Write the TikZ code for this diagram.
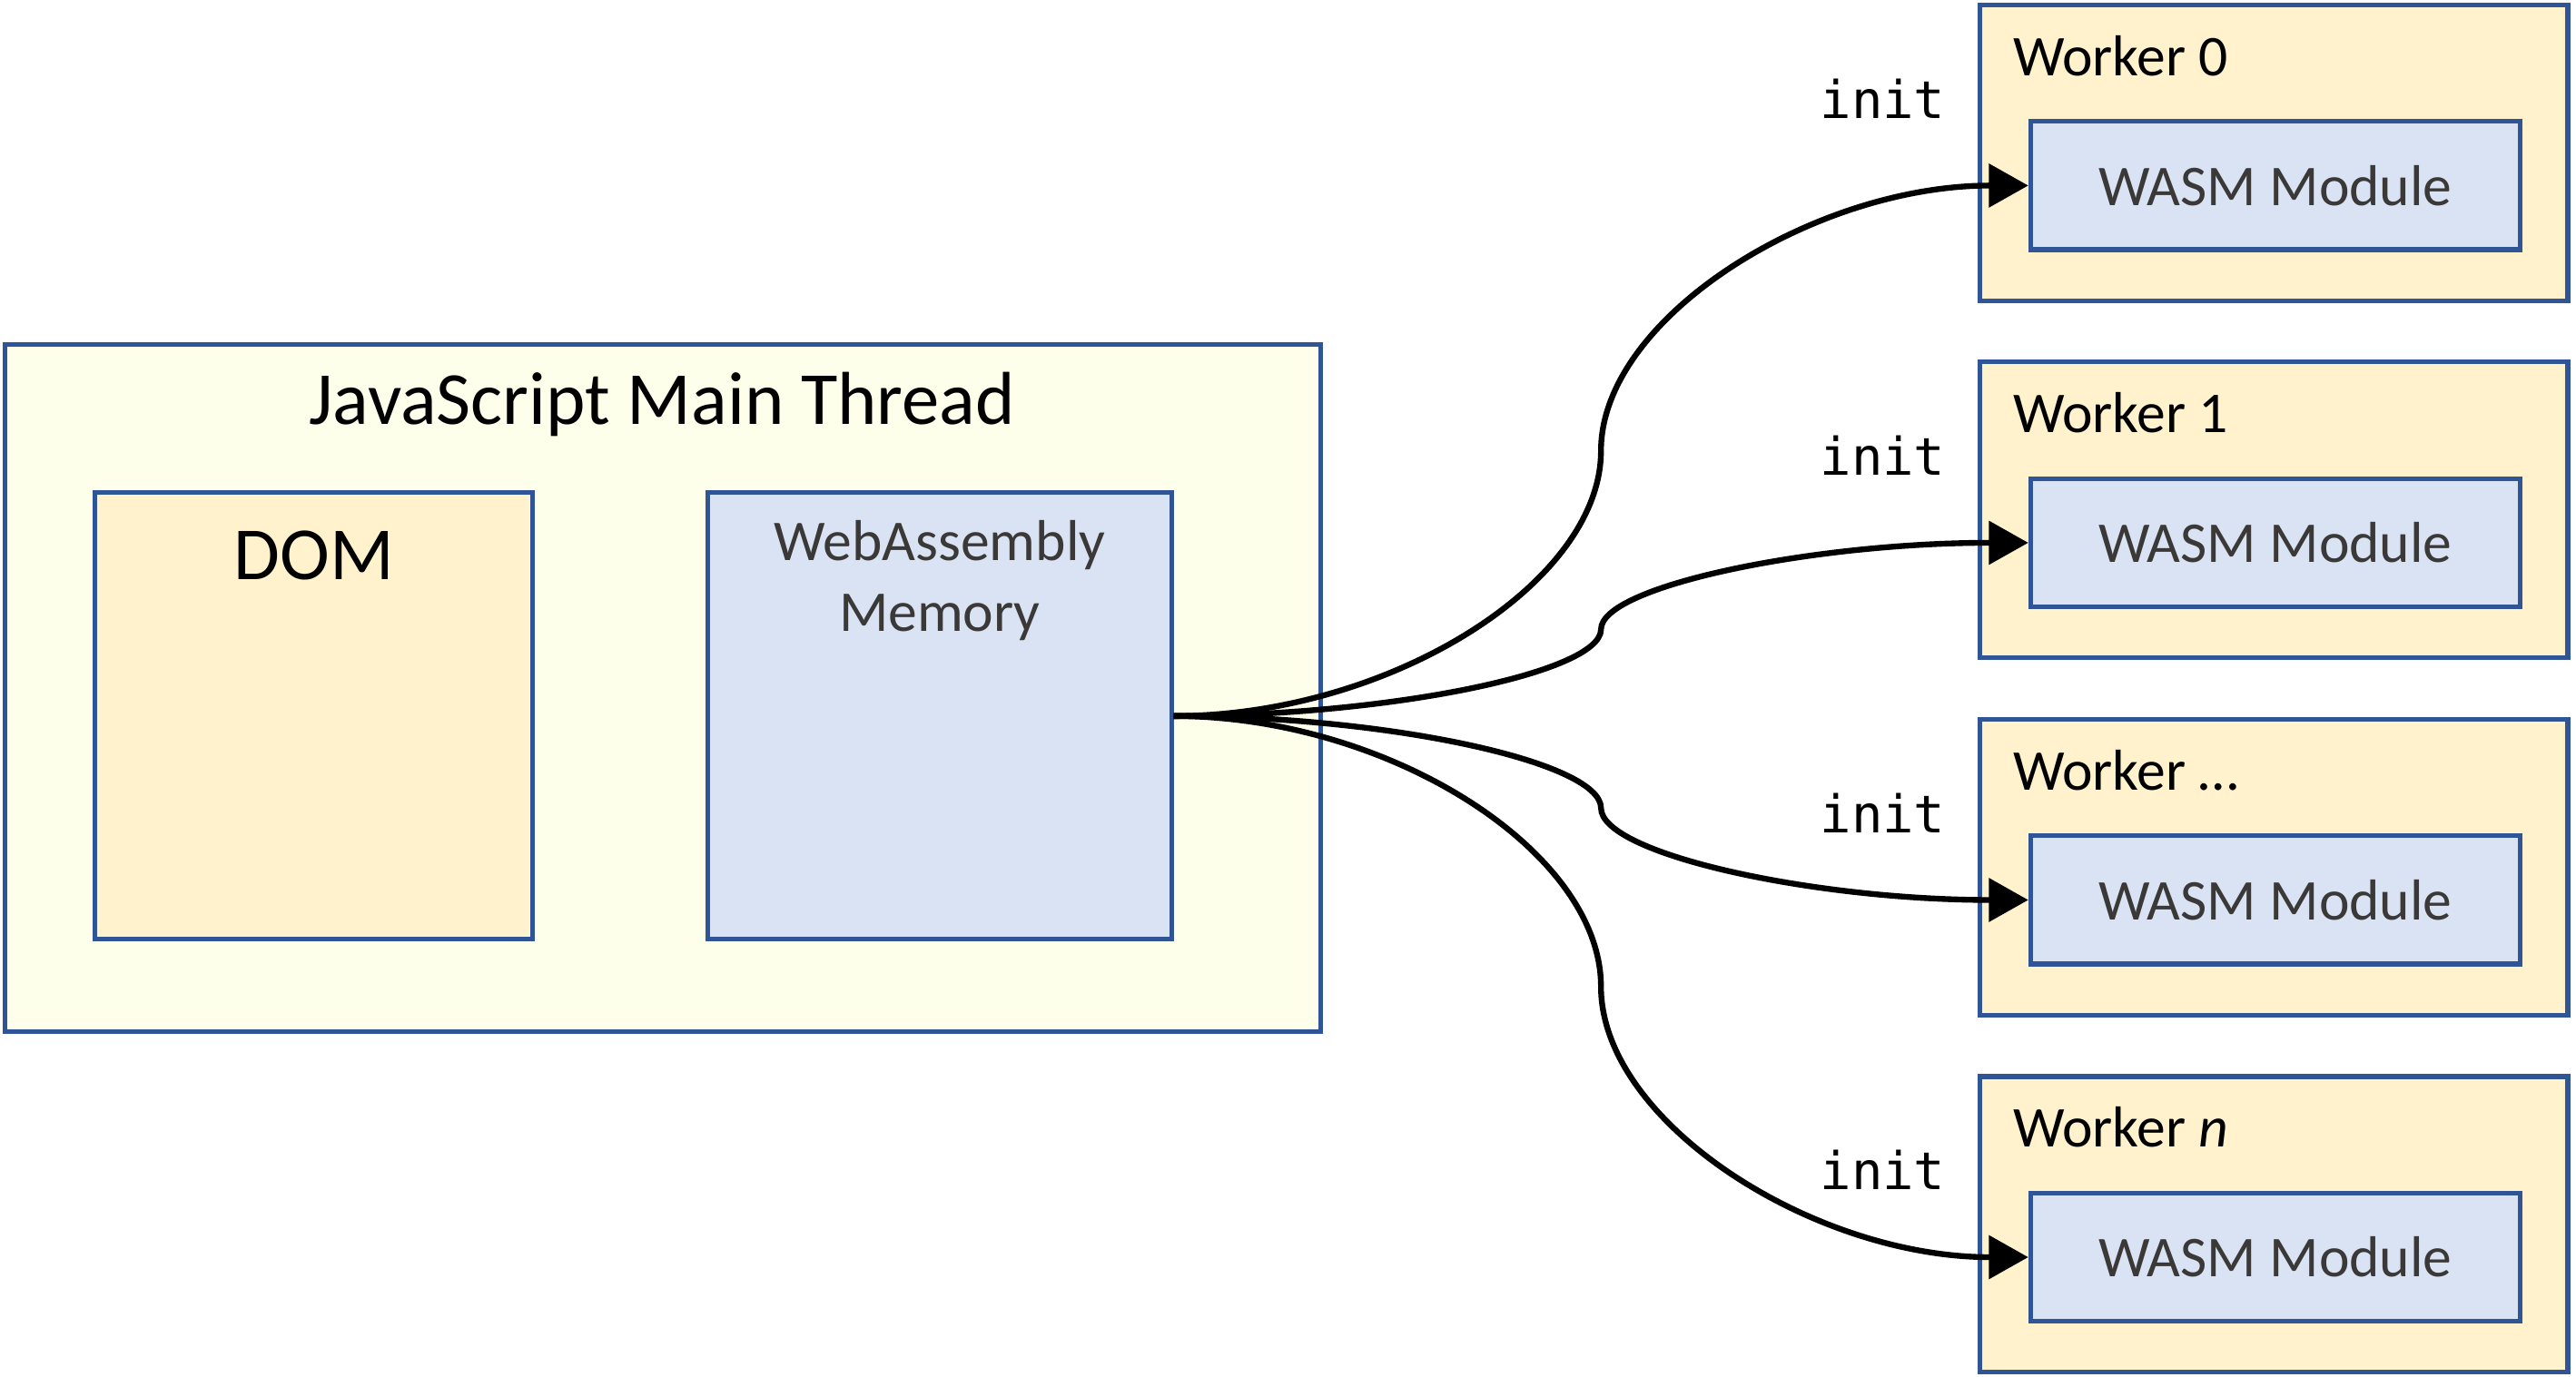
\documentclass[tikz,border=0pt]{standalone}
\usepackage{fontspec}
\setmainfont{Carlito}
\setmonofont{DejaVu Sans Mono}
\usetikzlibrary{calc,arrows.meta}

\definecolor{edge}{HTML}{2F5597}
\definecolor{pale}{HTML}{FEFFEB}
\definecolor{cream}{HTML}{FFF2CC}
\definecolor{ice}{HTML}{DAE3F3}
\definecolor{ink}{HTML}{3B3838}

\begin{document}
\begin{tikzpicture}[line width=0.8pt,
  box/.style={draw=edge, inner sep=0pt},
  big/.style={font=\fontsize{13}{15.6}\selectfont},
  small/.style={font=\fontsize{10}{12.2}\selectfont},
  flow/.style={draw=black, line width=1pt, -{Triangle[length=2.4mm,width=2.6mm]}}]
\useasboundingbox (0,0) rectangle (15.68,8.38);

% main thread
\node[box, fill=pale, minimum width=8.01cm, minimum height=4.18cm] (main) at (4.035,4.19) {};
\node[big] (title) at (4.03,5.92) {JavaScript Main Thread};
\node[box, fill=cream, minimum width=2.66cm, minimum height=2.72cm] (dom) at (1.91,4.02) {};
\node[big] (domtext) at (1.91,5.00) {DOM};
\node[box, fill=ice, minimum width=2.82cm, minimum height=2.72cm] (mem) at (5.72,4.02) {};
\node[small, align=center, text=ink] (memtext) at (5.72,4.845) {WebAssembly\\Memory};

% workers
\foreach \y/\name [count=\i] in {7.45/0, 5.275/1, 3.10/…, 0.925/{\textit{n}}} {
  \node[box, fill=cream, minimum width=3.58cm, minimum height=1.80cm] (w\i) at (13.84,\y) {};
  \node[small, anchor=west, inner sep=0pt] (wtext\i) at (12.24,\y+0.59) {Worker \name};
  \node[box, fill=ice, small, text=ink, minimum width=2.98cm, minimum height=0.78cm] (mod\i) at (13.85,\y-0.2) {WASM Module};
  \node[font=\ttfamily\fontsize{9}{11}\selectfont] (init\i) at (11.46,\y+0.33) {init};
  \coordinate (mid\i) at ($(mem.east)!.5!(mod\i.west)$);
  \pgfmathsetmacro\q{(\y-0.2-4.02)/4}
  \draw[flow] (mem.east) .. controls +(1.31,0) and +(0,-\q) .. (mid\i)
    .. controls +(0,\q) and +(-1.31,0) .. (mod\i.west);
}

\end{tikzpicture}
\end{document}
